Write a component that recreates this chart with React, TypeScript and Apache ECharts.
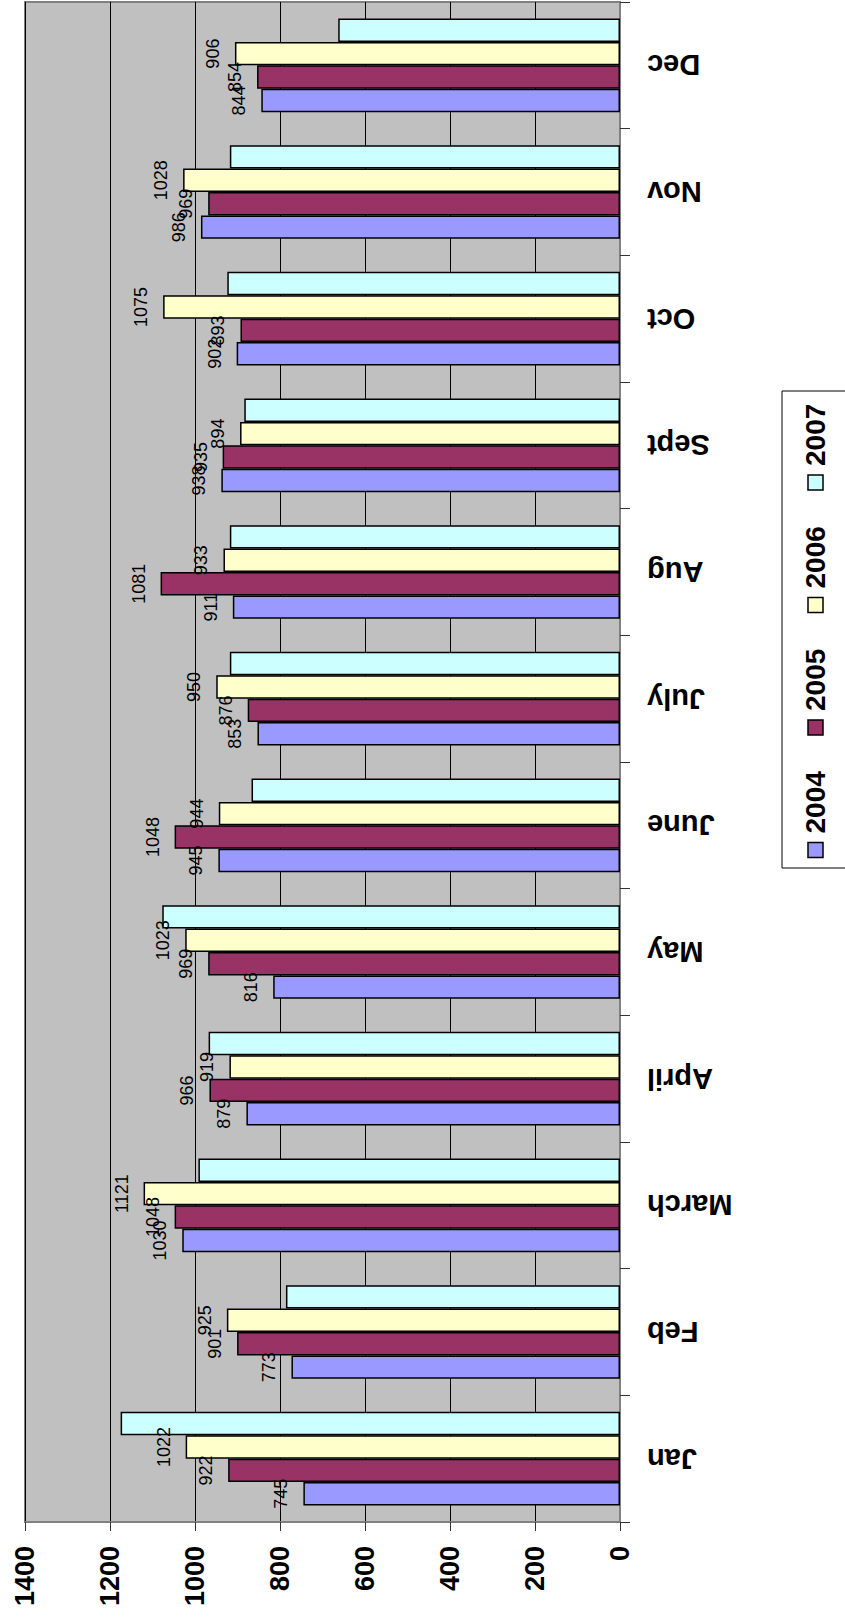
import React, { useEffect, useRef } from 'react';
import * as echarts from 'echarts';

const months = ['Jan', 'Feb', 'March', 'April', 'May', 'June', 'July', 'Aug', 'Sept', 'Oct', 'Nov', 'Dec'];
const years = ['2004', '2005', '2006', '2007'];
const v2004 = [745, 773, 1030, 879, 816, 945, 853, 911, 938, 902, 986, 844];
const v2005 = [922, 901, 1048, 966, 969, 1048, 876, 1081, 935, 893, 969, 854];
const v2006 = [1022, 925, 1121, 919, 1023, 944, 950, 933, 894, 1075, 1028, 906];
const v2007 = [1175, 786, 992, 968, 1077, 867, 918, 918, 884, 924, 918, 663];
const valueTickLabels = ['0', '200', '400', '600', '800', '1000', '1200', '1400'];

const seriesValues = [v2004, v2005, v2006, v2007];
const colors = ['#9999FF', '#993366', '#FFFFCC', '#CCFFFF'];
const showLabels = [true, true, true, false];

const FONT = "'Liberation Sans', Arial, sans-serif";

export default function App() {
  const ref = useRef<HTMLDivElement>(null);

  useEffect(() => {
    if (!ref.current) return;
    const chart = echarts.init(ref.current, null, { renderer: 'svg' });

    // draw order reversed so that 2004 sits at the bottom of each group
    const order = [3, 2, 1, 0];
    const series = order.map((i) => ({
      name: years[i],
      type: 'bar',
      data: seriesValues[i],
      barGap: '0%',
      barCategoryGap: '26%',
      itemStyle: { color: colors[i], borderColor: '#000', borderWidth: 1.5 },
      label: {
        show: showLabels[i],
        position: 'left',
        distance: 22,
        rotate: 90,
        align: 'center',
        verticalAlign: 'middle',
        color: '#000',
        fontFamily: FONT,
        fontSize: 18,
      },
    }));

    const legendGraphics: any[] = [
      {
        type: 'rect',
        shape: { x: 782, y: 391, width: 90, height: 477 },
        style: { fill: '#fff', stroke: '#000', lineWidth: 1 },
      },
    ];
    years.forEach((y, i) => {
      const cy = 850 - i * 122.5;
      legendGraphics.push({
        type: 'rect',
        shape: { x: 808, y: cy - 7.5, width: 15, height: 15 },
        style: { fill: colors[i], stroke: '#000', lineWidth: 1.5 },
      });
      legendGraphics.push({
        type: 'text',
        x: 815,
        y: cy - 7.5 - 9,
        rotation: Math.PI / 2,
        style: {
          text: y,
          fontFamily: FONT,
          fontWeight: 'bold',
          fontSize: 28,
          fill: '#000',
          align: 'left',
          verticalAlign: 'middle',
        },
      });
    });

    chart.setOption({
      animation: false,
      backgroundColor: '#ffffff',
      grid: {
        left: 25,
        right: 225,
        top: 2,
        bottom: 100,
        show: true,
        backgroundColor: '#C0C0C0',
        borderColor: '#808080',
        borderWidth: 2,
      },
      xAxis: {
        type: 'value',
        inverse: true,
        position: 'bottom',
        min: 0,
        max: 1400,
        interval: 200,
        axisLine: { show: true, lineStyle: { color: '#808080', width: 2 } },
        axisTick: { show: true, inside: false, length: 9, lineStyle: { color: '#333', width: 1 } },
        axisLabel: {
          rotate: 90,
          margin: 24,
          color: '#000',
          fontFamily: FONT,
          fontWeight: 'bold',
          fontSize: 27,
          formatter: (v: number) => valueTickLabels[Math.round(v / 200)] ?? String(v),
        },
        splitLine: { show: true, lineStyle: { color: '#000', width: 1 } },
      },
      yAxis: {
        type: 'category',
        position: 'right',
        data: months,
        axisLine: { show: true, lineStyle: { color: '#808080', width: 2 } },
        axisTick: { show: true, inside: false, length: 10, lineStyle: { color: '#333', width: 1 } },
        axisLabel: {
          rotate: 180,
          margin: 27,
          color: '#000',
          fontFamily: FONT,
          fontWeight: 'bold',
          fontSize: 29,
        },
        splitLine: { show: false },
      },
      series,
      graphic: legendGraphics,
    });

    return () => {
      chart.dispose();
    };
  }, []);

  return (
    <div
      ref={ref}
      style={{ position: 'absolute', left: 0, top: 0, width: 845, height: 1622, background: '#fff' }}
    />
  );
}
